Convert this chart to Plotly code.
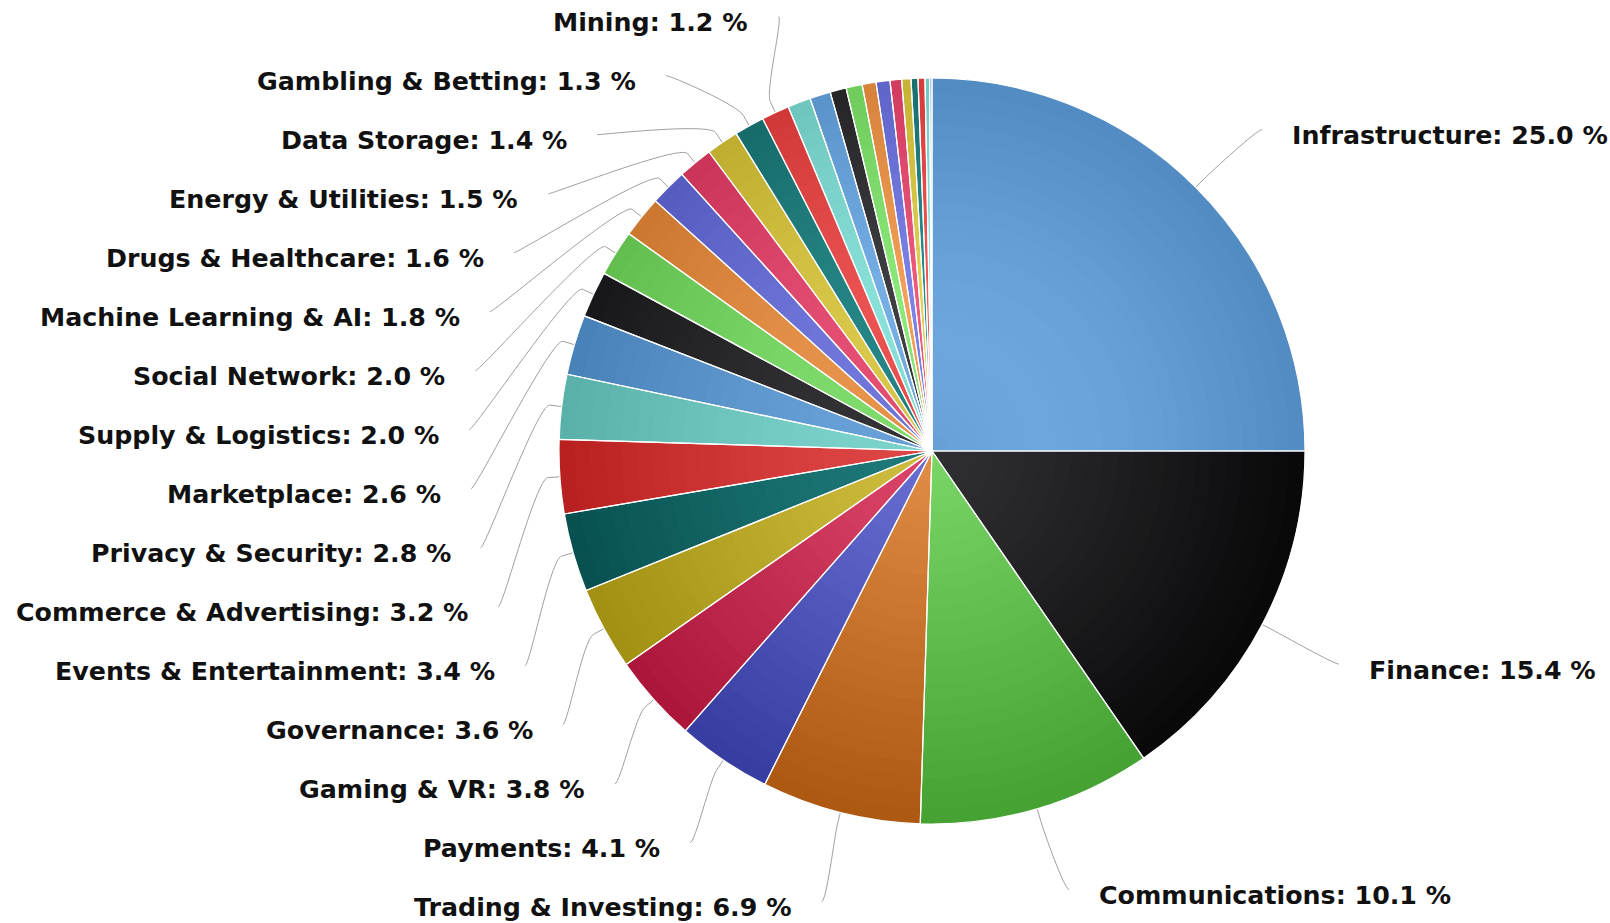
import math
import plotly.graph_objects as go

# ---------------- data ----------------
categories = [
    "Infrastructure", "Finance", "Communications", "Trading & Investing",
    "Payments", "Gaming & VR", "Governance", "Events & Entertainment",
    "Commerce & Advertising", "Privacy & Security", "Marketplace",
    "Supply & Logistics", "Social Network", "Machine Learning & AI",
    "Drugs & Healthcare", "Energy & Utilities", "Data Storage",
    "Gambling & Betting", "Mining",
    "Identity", "Insurance", "Art & Collectibles", "Education",
    "Media & Publishing", "Real Estate", "Travel & Tourism",
    "Internet of Things", "Charity & Donations", "Legal", "Sports",
    "Food & Beverage",
]
shares = [
    25.0, 15.4, 10.1, 6.9, 4.1, 3.8, 3.6, 3.4, 3.2, 2.8, 2.6, 2.0, 2.0, 1.8,
    1.6, 1.5, 1.4, 1.3, 1.2,
    1.0, 0.9, 0.7, 0.7, 0.6, 0.6, 0.5, 0.4, 0.3, 0.3, 0.2, 0.1,
]
label_threshold = 1.2  # smaller slices get no data label

# ---------------- style / layout ----------------
W, H = 1610, 923
CX, CY, R = 932.0, 451.0, 373.0
N_LAYERS = 24
palette = ['#7cb5ec', '#434348', '#90ed7d', '#f7a35c', '#8085e9',
           '#f15c80', '#e4d354', '#2b908f', '#f45b5b', '#91e8e1']
GX, GY = CX, CY - 0.4 * R      # radial gradient centre
GR = 1.4 * R                   # radial gradient radius
FONT = dict(family="DejaVu Sans", size=25.3, color="#111", weight="bold")
LABEL_R = 456.0
LABEL_DY = 7.0
Y_TOP, Y_BOT, GAP = 22.6, 907.7, 59.0
AX = 491.0
B_TOP, B_BOT_RIGHT, B_BOT_LEFT = 461.0, 472.0, 476.0
CONN_GAP = 28.0
BREAK = 12.0


def px2paper(x, y):
    return x / W, 1 - y / H


def shade(hexc, t):
    rgb = [int(hexc[i:i + 2], 16) for i in (1, 3, 5)]
    out = []
    for c in rgb:
        c1 = max(c - 76, 0)
        out.append(round(c + (c1 - c) * t))
    return "rgb(%d,%d,%d)" % tuple(out)


total = sum(shares)
mids = []
cum = 0.0
for v in shares:
    mids.append(2 * math.pi * (cum + v / 2) / total)
    cum += v

fig = go.Figure()

# gradient built from stacked discs, largest first
for k in range(N_LAYERS, 0, -1):
    rk = R * k / N_LAYERS
    rm = R * (k - 0.5) / N_LAYERS
    cols = []
    for i, th in enumerate(mids):
        px = CX + rm * math.sin(th)
        py = CY - rm * math.cos(th)
        t = min(math.hypot(px - GX, py - GY) / GR, 1.0)
        cols.append(shade(palette[i % len(palette)], t))
    x0, y0 = px2paper(CX - rk, CY + rk)
    x1, y1 = px2paper(CX + rk, CY - rk)
    fig.add_trace(go.Pie(
        labels=categories, values=shares, sort=False, direction="clockwise",
        rotation=0, textinfo="none", hoverinfo="skip", showlegend=False,
        marker=dict(colors=cols, line=dict(width=0)),
        domain=dict(x=[x0, x1], y=[y0, y1]),
    ))

# top pie: white slice borders + hover
x0, y0 = px2paper(CX - R, CY + R)
x1, y1 = px2paper(CX + R, CY - R)
fig.add_trace(go.Pie(
    labels=categories, values=shares, sort=False, direction="clockwise",
    rotation=0, textinfo="none", showlegend=False,
    hovertemplate="%{label}: %{percent:.1%}<extra></extra>",
    marker=dict(colors=["rgba(0,0,0,0)"] * len(shares),
                line=dict(color="white", width=1.2)),
    domain=dict(x=[x0, x1], y=[y0, y1]),
))

# ---------------- data labels with connectors ----------------
labeled = [i for i, v in enumerate(shares) if v >= label_threshold]
nat = {i: CY - LABEL_R * math.cos(mids[i]) + LABEL_DY for i in labeled}
right = [i for i in labeled if mids[i] < math.pi]
left = sorted([i for i in labeled if mids[i] >= math.pi], key=lambda i: nat[i])

ypos = {i: nat[i] for i in right}
ys = [min(max(nat[i], Y_TOP), Y_BOT) for i in left]
for j in range(1, len(ys)):
    ys[j] = max(ys[j], ys[j - 1] + GAP)
ys[-1] = min(ys[-1], Y_BOT)
for j in range(len(ys) - 2, -1, -1):
    ys[j] = min(ys[j], ys[j + 1] - GAP)
for i, y in zip(left, ys):
    ypos[i] = y


def fx(dy, is_right):
    if dy < 0:
        b = B_TOP
    else:
        b = B_BOT_RIGHT if is_right else B_BOT_LEFT
    return AX * math.sqrt(max(0.0, 1 - (dy / b) ** 2))


shapes = []
annotations = []
for i in labeled:
    y = ypos[i]
    is_right = i in right
    off = fx(y - CY, is_right)
    th = mids[i]
    rimx, rimy = CX + R * math.sin(th), CY - R * math.cos(th)
    bx, by = CX + (R + BREAK) * math.sin(th), CY - (R + BREAK) * math.cos(th)
    yc = y - 6
    if is_right:
        tx = CX + off
        sx = tx - CONN_GAP
        c1x = sx - 5
    else:
        tx = CX - off
        sx = tx + CONN_GAP
        c1x = sx + 5
    pts = [(sx, yc), (c1x, yc), (2 * bx - rimx, 2 * by - rimy), (bx, by), (rimx, rimy)]
    pp = [px2paper(*p) for p in pts]
    path = "M %.5f,%.5f C %.5f,%.5f %.5f,%.5f %.5f,%.5f L %.5f,%.5f" % (
        pp[0][0], pp[0][1], pp[1][0], pp[1][1], pp[2][0], pp[2][1],
        pp[3][0], pp[3][1], pp[4][0], pp[4][1])
    shapes.append(dict(type="path", path=path, xref="paper", yref="paper",
                       line=dict(color="#a0a0a0", width=1), layer="below"))
    ax, ay = px2paper(tx, y)
    annotations.append(dict(
        x=ax, y=ay, xref="paper", yref="paper", showarrow=False,
        text="%s: %.1f %%" % (categories[i], shares[i]),
        xanchor="left" if is_right else "right", yanchor="middle",
        font=FONT,
    ))

fig.update_layout(
    width=W, height=H, margin=dict(l=0, r=0, t=0, b=0),
    paper_bgcolor="white", plot_bgcolor="white",
    shapes=shapes, annotations=annotations, showlegend=False,
)

fig.write_html("out.html")
